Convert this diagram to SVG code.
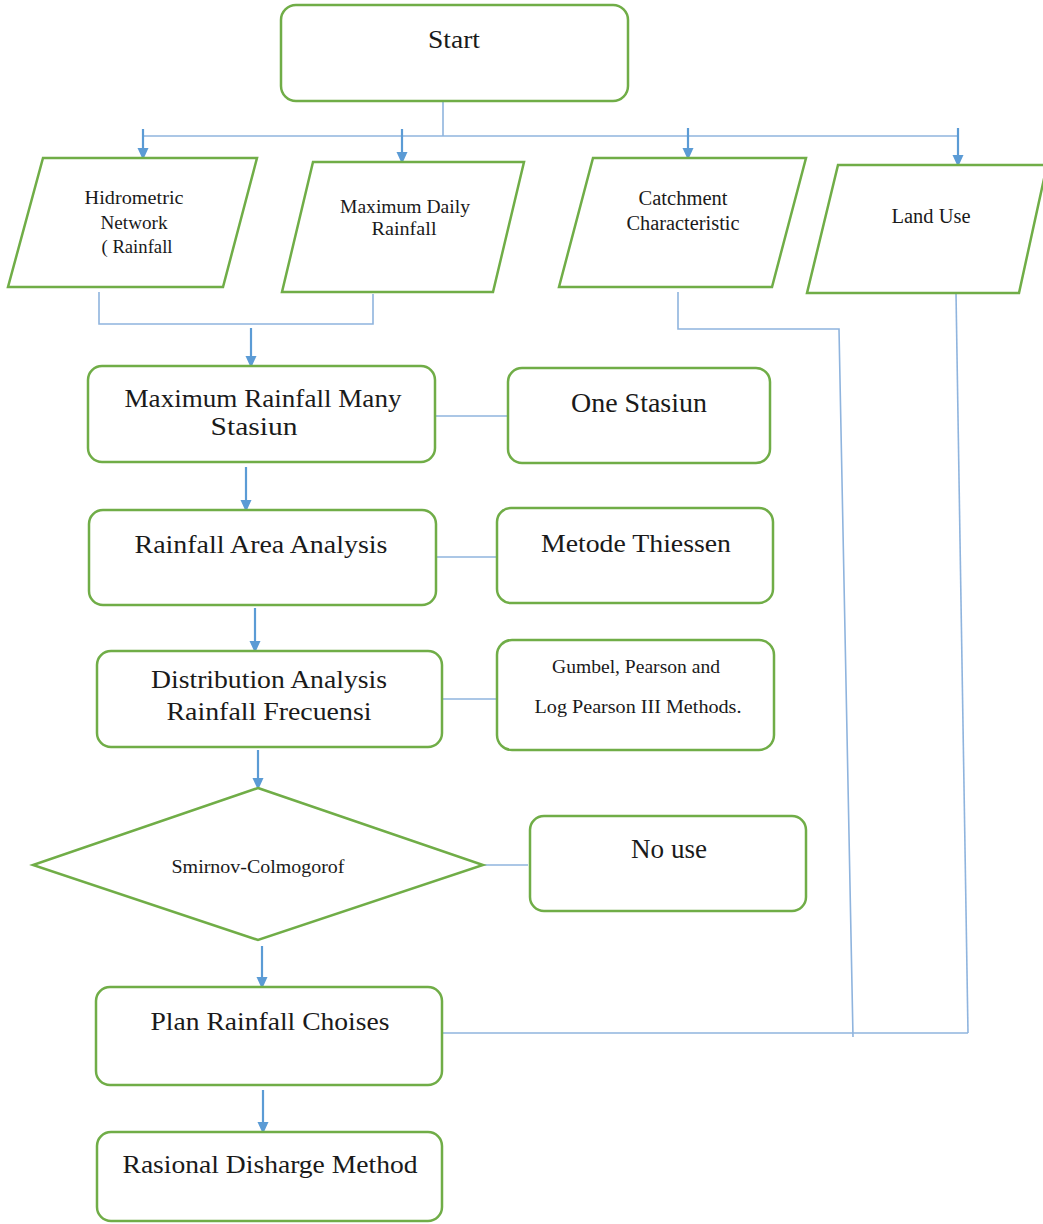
<svg xmlns="http://www.w3.org/2000/svg" width="1043" height="1224" viewBox="0 0 1043 1224">
<style>
.box{fill:#fff;stroke:#70AD47;stroke-width:2.5}
.t{font-family:"Liberation Serif","Times New Roman",serif;fill:#1a1a1a;text-anchor:middle}
.ln{fill:none;stroke:#8FB4DE;stroke-width:1.6}
.ar{fill:none;stroke:#5B9BD5;stroke-width:2.2;marker-end:url(#ah)}
</style>
<defs>
<marker id="ah" markerUnits="userSpaceOnUse" markerWidth="12" markerHeight="12" viewBox="0 0 12 12" refX="11" refY="6" orient="auto">
<path d="M0,0.5 L12,6 L0,11.5 Z" fill="#5B9BD5"/>
</marker>
</defs>
<rect width="1043" height="1224" fill="#fff"/>

<g id="connectors">
<line class="ln" x1="443" y1="101" x2="443" y2="136"/>
<line class="ln" x1="143" y1="136" x2="958" y2="136"/>
<line class="ar" x1="143" y1="129" x2="143" y2="159"/>
<line class="ar" x1="402" y1="129" x2="402" y2="163"/>
<line class="ar" x1="688" y1="128" x2="688" y2="159"/>
<line class="ar" x1="958" y1="128" x2="958" y2="166"/>
<polyline class="ln" points="99,292 99,324 373,324 373,294"/>
<line class="ar" x1="251" y1="328" x2="251" y2="367"/>
<line class="ln" x1="435" y1="416" x2="508" y2="416"/>
<line class="ar" x1="246" y1="467" x2="246" y2="511"/>
<line class="ln" x1="436" y1="557" x2="497" y2="557"/>
<line class="ar" x1="255" y1="608" x2="255" y2="652"/>
<line class="ln" x1="442" y1="699" x2="497" y2="699"/>
<line class="ar" x1="258" y1="750" x2="258" y2="789"/>
<line class="ln" x1="483" y1="865" x2="528" y2="865"/>
<line class="ar" x1="262" y1="946" x2="262" y2="988"/>
<polyline class="ln" points="678,292 678,329 839,329 853,1037"/>
<line class="ln" x1="956" y1="293" x2="968" y2="1033"/>
<line class="ln" x1="442" y1="1033" x2="968" y2="1033"/>
<line class="ar" x1="263" y1="1090" x2="263" y2="1133"/>
</g>

<g id="start">
<rect class="box" x="281" y="5" width="347" height="96" rx="15"/>
<text class="t" x="454" y="48" font-size="26" textLength="52" lengthAdjust="spacingAndGlyphs">Start</text>
</g>

<g id="hidrometric">
<polygon class="box" points="43,158 257,158 223,287 8,287"/>
<text class="t" x="134" y="204" font-size="19" textLength="99" lengthAdjust="spacingAndGlyphs">Hidrometric</text>
<text class="t" x="134" y="229" font-size="19" textLength="67" lengthAdjust="spacingAndGlyphs">Network</text>
<text class="t" x="137" y="253" font-size="19" textLength="71" lengthAdjust="spacingAndGlyphs">( Rainfall</text>
</g>

<g id="maxdaily">
<polygon class="box" points="313,162 524,162 493,292 282,292"/>
<text class="t" x="405" y="213" font-size="18" textLength="130" lengthAdjust="spacingAndGlyphs">Maximum Daily</text>
<text class="t" x="404" y="235" font-size="18" textLength="65" lengthAdjust="spacingAndGlyphs">Rainfall</text>
</g>

<g id="catchment">
<polygon class="box" points="593,158 806,158 772,287 559,287"/>
<text class="t" x="683" y="205" font-size="20" textLength="89" lengthAdjust="spacingAndGlyphs">Catchment</text>
<text class="t" x="683" y="230" font-size="20" textLength="113" lengthAdjust="spacingAndGlyphs">Characteristic</text>
</g>

<g id="landuse">
<polygon class="box" points="838,165 1047,165 1019,293 807,293"/>
<text class="t" x="931" y="223" font-size="20" textLength="79" lengthAdjust="spacingAndGlyphs">Land Use</text>
</g>

<g id="maxrainfall">
<rect class="box" x="88" y="366" width="347" height="96" rx="14"/>
<text class="t" x="263" y="407" font-size="26" textLength="277" lengthAdjust="spacingAndGlyphs">Maximum Rainfall Many</text>
<text class="t" x="254" y="435" font-size="26" textLength="87" lengthAdjust="spacingAndGlyphs">Stasiun</text>
</g>

<g id="onestasiun">
<rect class="box" x="508" y="368" width="262" height="95" rx="14"/>
<text class="t" x="639" y="412" font-size="27" textLength="136" lengthAdjust="spacingAndGlyphs">One Stasiun</text>
</g>

<g id="areaanalysis">
<rect class="box" x="89" y="510" width="347" height="95" rx="14"/>
<text class="t" x="261" y="553" font-size="26" textLength="253" lengthAdjust="spacingAndGlyphs">Rainfall Area Analysis</text>
</g>

<g id="thiessen">
<rect class="box" x="497" y="508" width="276" height="95" rx="14"/>
<text class="t" x="636" y="552" font-size="26" textLength="190" lengthAdjust="spacingAndGlyphs">Metode Thiessen</text>
</g>

<g id="distribution">
<rect class="box" x="97" y="651" width="345" height="96" rx="14"/>
<text class="t" x="269" y="688" font-size="26" textLength="236" lengthAdjust="spacingAndGlyphs">Distribution Analysis</text>
<text class="t" x="269" y="720" font-size="26" textLength="205" lengthAdjust="spacingAndGlyphs">Rainfall Frecuensi</text>
</g>

<g id="gumbel">
<rect class="box" x="497" y="640" width="277" height="110" rx="15"/>
<text class="t" x="636" y="673" font-size="18" textLength="168" lengthAdjust="spacingAndGlyphs">Gumbel, Pearson and</text>
<text class="t" x="638" y="713" font-size="18" textLength="207" lengthAdjust="spacingAndGlyphs">Log Pearson III Methods.</text>
</g>

<g id="smirnov">
<polygon class="box" points="258,788 483,865 258,940 33,865"/>
<text class="t" x="258" y="873" font-size="18" textLength="173" lengthAdjust="spacingAndGlyphs">Smirnov-Colmogorof</text>
</g>

<g id="nouse">
<rect class="box" x="530" y="816" width="276" height="95" rx="14"/>
<text class="t" x="669" y="858" font-size="28" textLength="76" lengthAdjust="spacingAndGlyphs">No use</text>
</g>

<g id="plan">
<rect class="box" x="96" y="987" width="346" height="98" rx="14"/>
<text class="t" x="270" y="1030" font-size="26" textLength="239" lengthAdjust="spacingAndGlyphs">Plan Rainfall Choises</text>
</g>

<g id="rasional">
<rect class="box" x="97" y="1132" width="345" height="89" rx="14"/>
<text class="t" x="270" y="1173" font-size="26" textLength="295" lengthAdjust="spacingAndGlyphs">Rasional Disharge Method</text>
</g>
</svg>
